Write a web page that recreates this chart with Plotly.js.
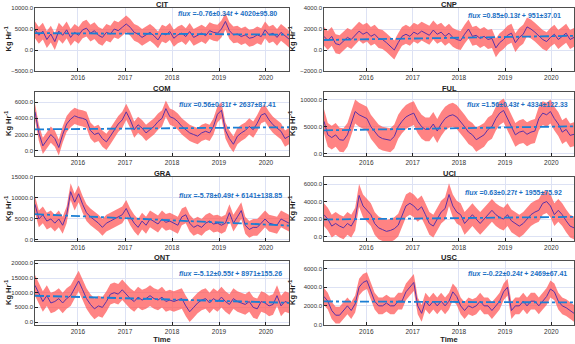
<!DOCTYPE html>
<html>
<head>
<meta charset="utf-8">
<script src="https://cdn.plot.ly/plotly-3.0.1.min.js"></script>
<style>html,body{margin:0;padding:0;background:#fff}#fig{width:575px;height:344px}</style>
</head>
<body>
<div id="fig"></div>
<script>
// monthly values, Feb 2015 .. Jun 2020 (Kg Hr-1)
var sites = ['CIT', 'CNP', 'COM', 'FUL', 'GRA', 'UCI', 'ONT', 'USC'];

var CIT = [4800, 3500, 4500, 2500, 3800, 2000, 4500, 3500, 4800, 3000, 4200,
  3500, 4800, 5200, 4000, 4600, 3500, 3000, 4200, 3800, 5000, 4600, 5400,
  6200, 5400, 4200, 3800, 3000, 3600, 4200, 3400, 2400, 4000, 3600, 4400,
  2800, 3600, 4000, 3200, 4400, 3000, 3600, 4000, 3400, 4600, 4200, 4000,
  5000, 6800, 4600, 3600, 3800, 3200, 3600, 2800, 3000, 3600, 3200, 4800,
  3600, 4000, 3000, 4200, 3400, 2600];
var CNP = [1300, 900, 1300, 600, 500, 900, 1200, 1000, 1400, 1800, 1500,
  1700, 1300, 1500, 1100, 1000, 700, 300, 0, 700, 1300, 1500, 1300,
  1700, 1500, 1800, 1600, 1400, 1900, 1500, 1700, 1300, 1600, 1200, 1000,
  900, 1500, 2000, 1300, 1400, 1100, 1300, 1000, 1100, 200, 700, 1000,
  1400, 1600, 700, 1200, 1500, 2200, 2000, 1700, 1300, 1000, 800, 1200,
  1500, 1000, 1300, 1600, 1000, 1200];
var COM = [4800, 2200, 600, 1300, 2000, 1500, 400, 2000, 3300, 3900, 4300,
  4100, 4000, 3800, 2500, 2000, 2200, 1500, 1100, 1800, 2500, 3300, 3800,
  4800, 3800, 2600, 3200, 2800, 2200, 2600, 3000, 3600, 4000, 5200, 4200,
  4000, 3600, 3000, 2600, 2200, 2000, 1800, 2200, 2400, 2200, 3000, 4500,
  5000, 2500, 1500, 800, 1800, 2200, 2500, 3000, 2600, 3400, 4400, 4600,
  3800, 3200, 2800, 2400, 1500, 1800];
var FUL = [6000, 3500, 3000, 3500, 2600, 2500, 3500, 5500, 7800, 7200, 6800,
  6500, 5000, 4200, 3200, 2800, 2600, 2500, 3200, 5000, 6000, 6800, 7200,
  7500, 6000, 5000, 4500, 4500, 5500, 4200, 5500, 6500, 7000, 7200, 6800,
  6000, 5000, 4000, 3500, 2600, 3000, 3500, 4500, 5000, 6500, 7500, 8000,
  6500, 4800, 3500, 4000, 4200, 3600, 4000, 4200, 6500, 7500, 7200, 7800,
  6500, 5500, 4000, 4500, 3400, 3600];
var GRA = [8500, 5000, 6000, 4500, 5000, 4000, 5000, 3500, 6000, 11500, 9000,
  11000, 8500, 6500, 5500, 4800, 4000, 3000, 4000, 4500, 5000, 5500, 6000,
  7500, 5500, 4000, 3000, 4500, 3500, 5000, 4500, 3800, 5000, 4200, 4500,
  4000, 3500, 5500, 6000, 4000, 3000, 3500, 3000, 4000, 4500, 3800, 4000,
  3500, 4000, 6500, 4000, 5500, 7000, 3500, 2500, 3000, 3000, 4000, 5000,
  4000, 3800, 3500, 5000, 4500, 4000];
var UCI = [2500, 2000, 1200, 1500, 1200, 1000, 1500, 1200, 2000, 4700, 3500,
  3000, 2500, 1500, 1000, 800, 600, 700, 900, 1300, 2500, 3500, 3800,
  3500, 3000, 3400, 2500, 1500, 1200, 2000, 2800, 3200, 4800, 3500, 2800,
  2500, 1500, 2000, 2500, 2000, 1500, 2000, 2500, 3000, 2500, 2200, 2000,
  2500, 1800, 1500, 1200, 1500, 2000, 2500, 2800, 3000, 3800, 4000, 3500,
  2500, 3000, 2500, 1800, 1200, 1000];
var ONT = [12500, 10000, 7000, 9000, 6500, 7000, 8000, 6500, 8000, 9000, 11500,
  14000, 11000, 8000, 6000, 4500, 5500, 5000, 7000, 9500, 10000, 9500, 11000,
  9500, 8000, 7000, 8500, 7500, 8000, 9000, 8000, 7500, 8500, 7000, 7500,
  7000, 7500, 8000, 5500, 3500, 5000, 6500, 7500, 8000, 6500, 8000, 7000,
  8500, 7000, 6000, 8000, 7000, 6500, 6000, 7000, 5000, 4500, 7000, 6500,
  5500, 6000, 9000, 5500, 7000, 6500];
var USC = [3000, 2500, 1500, 1000, 1000, 1500, 2000, 1500, 2200, 4000, 4500,
  4700, 3500, 2500, 2000, 2000, 2300, 2000, 2000, 2500, 2500, 3500, 4000,
  4500, 2000, 1200, 2500, 2000, 2500, 2000, 2500, 2000, 2500, 3500, 3000,
  2000, 1500, 2000, 1800, 2000, 2500, 2000, 2000, 1500, 2000, 2500, 3500,
  4000, 1500, 2000, 2000, 2500, 2000, 2500, 2500, 2000, 2500, 3000, 3800,
  3500, 2500, 2000, 1800, 1500, 1200];

var series = [CIT, CNP, COM, FUL, GRA, UCI, ONT, USC];
var band = [2000, 900, 1000, 2200, 2000, 1300, 3500, 900];

// linear fit: flux = slope*t + intercept, t = sample index (0..470)
var slope = [-0.76, 0.85, 0.56, 1.56, -5.78, 0.63, -5.12, -0.22];
var slopeErr = [0.34, 0.13, 0.31, 0.43, 0.49, 0.27, 0.55, 0.24];
var intercept = [4020, 951, 2637, 4334, 6141, 1955, 8971, 2469];
var interceptErr = [95.80, 37.01, 87.41, 122.33, 138.85, 75.92, 155.26, 67.41];
var tLast = 470;

var yRanges = [[-5000, 10000], [-2000, 4000], [-650, 7250], [-400, 11400],
  [-250, 15000], [-500, 6800], [-1000, 20800], [-50, 6800]];
var yDtick = [5000, 2000, 2000, 5000, 5000, 2000, 5000, 2000];

var xStart = '2015-02-01', xEnd = '2020-06-28';
var t0 = Date.parse(xStart), t1 = Date.parse(xEnd);
var n = CIT.length;
var dates = [];
for (var i = 0; i < n; i++) {
  dates.push(new Date(t0 + (t1 - t0) * i / (n - 1)).toISOString().slice(0, 10));
}

var W = 575, H = 344;
var colL = [35, 289], colR = [324, 574];
var titleX = [8, 292];
var rowTop = [8, 92, 177, 261], rowBot = [71, 156, 241, 325];
var noteY = [14, 16, 104, 104, 195, 192, 273, 273];
var noteX = [278, 562, 277, 569, 283, 563, 283, 568];

var data = [];
var layout = {
  width: W, height: H,
  margin: {l: 0, r: 0, t: 0, b: 0},
  paper_bgcolor: '#fff', plot_bgcolor: '#fff',
  showlegend: false,
  font: {family: 'Liberation Sans, Arial, sans-serif', size: 7, color: '#222'},
  annotations: []
};

for (var k = 0; k < 8; k++) {
  var s = k + 1;
  var xa = s === 1 ? 'x' : 'x' + s, ya = s === 1 ? 'y' : 'y' + s;
  var v = series[k];
  var lo = v.map(function (d) { return d - band[k]; });
  var hi = v.map(function (d) { return d + band[k]; });

  data.push({x: dates, y: lo, xaxis: xa, yaxis: ya, mode: 'lines',
    line: {width: 0}, hoverinfo: 'skip'});
  data.push({x: dates, y: hi, xaxis: xa, yaxis: ya, mode: 'lines', fill: 'tonexty',
    fillcolor: 'rgba(255,90,90,0.75)', line: {width: 0}, hoverinfo: 'skip'});
  data.push({x: dates, y: v, xaxis: xa, yaxis: ya, mode: 'lines',
    line: {color: '#5a32a8', width: 1}});
  data.push({x: [xStart, xEnd], y: [intercept[k], slope[k] * tLast + intercept[k]],
    xaxis: xa, yaxis: ya, mode: 'lines',
    line: {color: '#1b7fd4', width: 1.8, dash: 'dashdot'}});

  var c = k % 2;
  var col = c === 0 ? colL : colR;
  var row = Math.floor(k / 2);
  var ax = {
    domain: [col[0] / W, col[1] / W], anchor: ya,
    type: 'date', range: [xStart, xEnd],
    tick0: '2016-01-01', dtick: 'M12', tickformat: '%Y',
    showline: true, mirror: true, linecolor: '#222', linewidth: 0.8,
    ticks: 'inside', ticklen: 3, tickcolor: '#222',
    showgrid: true, gridcolor: '#dde2f4', zeroline: false,
    tickfont: {size: 6.5, color: '#333'}
  };
  if (row === 3) {
    ax.title = {text: '<b>Time</b>', font: {size: 7.5, color: '#222'}, standoff: 2};
  }
  var ay = {
    domain: [1 - rowBot[row] / H, 1 - rowTop[row] / H], anchor: xa,
    range: yRanges[k], dtick: yDtick[k], tick0: 0, tickformat: '.1f',
    showline: true, mirror: true, linecolor: '#222', linewidth: 0.8,
    ticks: 'inside', ticklen: 3, tickcolor: '#222',
    showgrid: true, gridcolor: '#dde2f4', zeroline: false,
    tickfont: {size: 6, color: '#333'}
  };
  layout[s === 1 ? 'xaxis' : 'xaxis' + s] = ax;
  layout[s === 1 ? 'yaxis' : 'yaxis' + s] = ay;

  layout.annotations.push({
    text: '<b>' + sites[k] + '</b>', xref: 'paper', yref: 'paper',
    x: (col[0] + col[1]) / 2 / W, y: 1 - (rowTop[row] - 4) / H,
    xanchor: 'center', yanchor: 'middle', showarrow: false,
    font: {size: 7.5, color: '#222'}, borderpad: 0
  });
  layout.annotations.push({
    text: '<b>Kg Hr<sup>-1</sup></b>', xref: 'paper', yref: 'paper',
    x: titleX[c] / W, y: 1 - (rowTop[row] + rowBot[row]) / 2 / H,
    xanchor: 'center', yanchor: 'middle', textangle: -90, showarrow: false,
    font: {size: 7.5, color: '#222'}, borderpad: 0
  });
  var fit = '<b><i>flux</i> =' + slope[k].toFixed(2) + '±' + slopeErr[k].toFixed(2) +
    '<i>t</i> + ' + intercept[k] + '±' + interceptErr[k].toFixed(2) + '</b>';
  layout.annotations.push({
    text: fit, xref: 'paper', yref: 'paper',
    x: noteX[k] / W, y: 1 - noteY[k] / H,
    xanchor: 'right', yanchor: 'middle', showarrow: false,
    font: {size: 7, color: '#1b6fc4'}, borderpad: 0
  });
}

Plotly.newPlot('fig', data, layout, {staticPlot: true});
</script>
</body>
</html>
